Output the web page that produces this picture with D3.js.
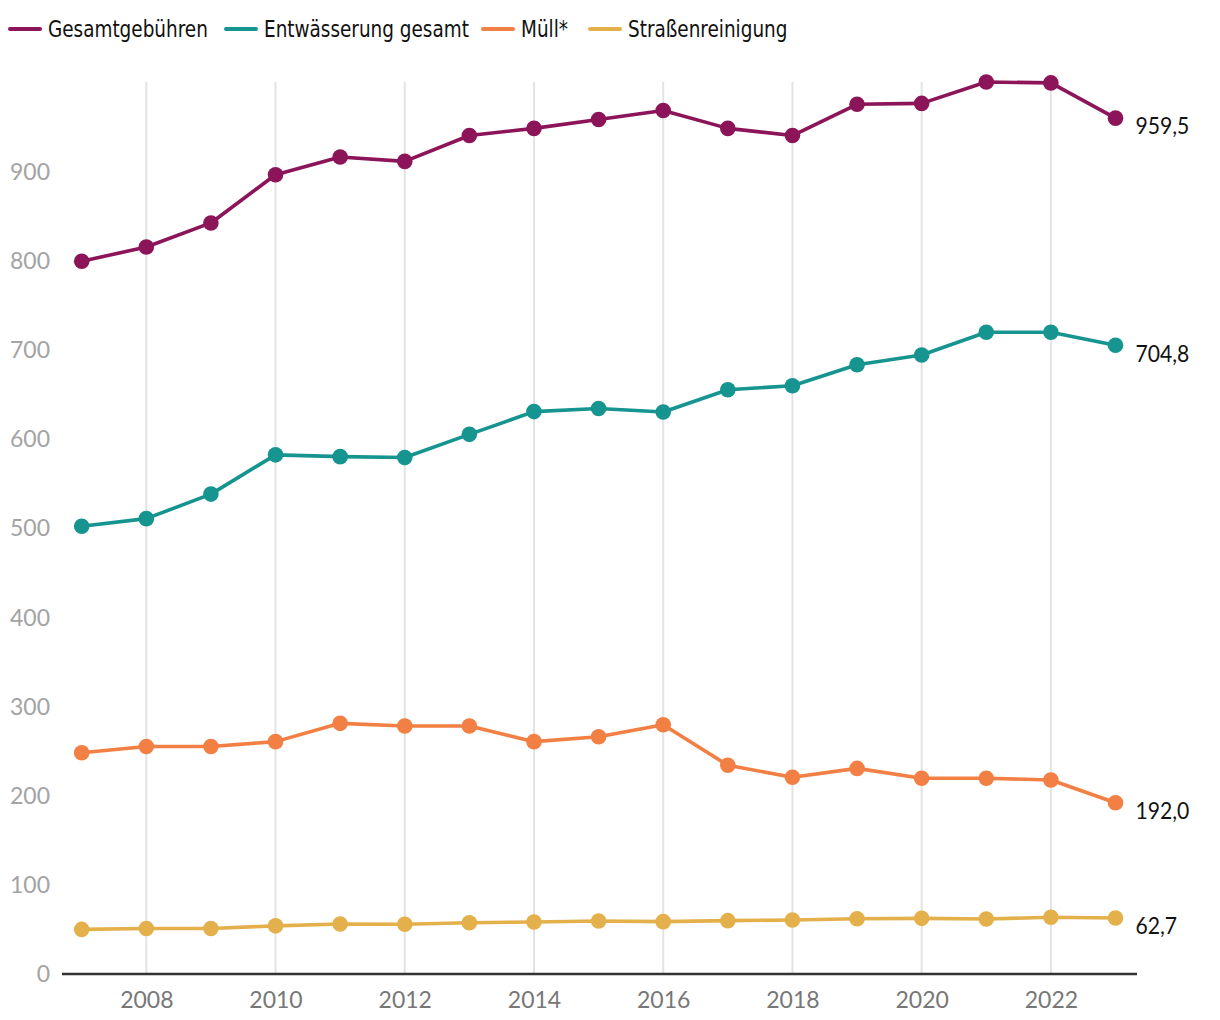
<!DOCTYPE html>
<html><head><meta charset="utf-8">
<script src="https://cdn.jsdelivr.net/npm/d3@7"></script>
<style>
body{margin:0;background:#fff;}
svg{display:block;}
</style></head>
<body>
<svg id="c" width="1220" height="1020"></svg>
<script>
const years = [2007,2008,2009,2010,2011,2012,2013,2014,2015,2016,2017,2018,2019,2020,2021,2022,2023];
const gesamt = [799,815,842,896,916,911,940,948,958,968,948,940,975,976,1000,999,959.5];
const entwaesserung = [502,510.5,538,582,580,579,605,630.5,634,630,655,659.5,683,694,719.5,719.5,704.8];
const muell = [248,255,255,260.5,281,278,278,260.5,266,279.5,234,220.5,230.5,219.5,219.5,217.5,192.0];
const strasse = [50,51,51,54,56,55.7,57.5,58.3,59.4,58.7,59.8,60.5,62,62.4,61.7,63.6,62.7];
const seriesNames = ["Gesamtgebühren","Entwässerung gesamt","Müll*","Straßenreinigung"];
const seriesColors = ["#8c1459","#16948f","#f27f43","#e4b04b"];
const yTicks = [0,100,200,300,400,500,600,700,800,900];
const xTicks = [2008,2010,2012,2014,2016,2018,2020,2022];
const endLabels = ["959,5","704,8","192,0","62,7"];

const series = [gesamt, entwaesserung, muell, strasse];
const svg = d3.select("#c");
const x = d3.scaleLinear().domain([2007,2023]).range([81.7,1115.5]);
const y = d3.scaleLinear().domain([0,1000]).range([974,82]);

// vertical grid
svg.append("g").selectAll("line").data(xTicks).join("line")
  .attr("x1",d=>x(d)).attr("x2",d=>x(d)).attr("y1",y(1000)).attr("y2",y(0))
  .attr("stroke","#e3e3e3").attr("stroke-width",2);

// y axis labels
const yAxis = d3.axisLeft(y).tickValues(yTicks).tickSize(0).tickPadding(0).tickFormat(d3.format("d"));
const ya = svg.append("g").attr("transform","translate(50,0)").call(yAxis);
ya.select(".domain").remove();
ya.selectAll("text").attr("fill","#a3a3a3").attr("font-family","Lato, sans-serif").attr("font-size",23).attr("dy","0.34em");

// x axis
const xAxis = d3.axisBottom(x).tickValues(xTicks).tickSize(0).tickPadding(0).tickFormat(d3.format("d"));
const xa = svg.append("g").attr("transform","translate(0,"+y(0)+")").call(xAxis);
xa.select(".domain").remove();
xa.selectAll("text").attr("fill","#777").attr("font-family","Lato, sans-serif").attr("font-size",23).attr("y",34).attr("dy",0);
svg.append("line").attr("x1",62).attr("x2",1137).attr("y1",y(0)).attr("y2",y(0))
  .attr("stroke","#333").attr("stroke-width",2.5);

const line = d3.line().x((d,i)=>x(years[i])).y(d=>y(d));
series.forEach((s,k)=>{
  const g = svg.append("g");
  g.append("path").datum(s).attr("d",line).attr("fill","none")
    .attr("stroke",seriesColors[k]).attr("stroke-width",3.6).attr("stroke-linejoin","round");
  g.selectAll("circle").data(s).join("circle")
    .attr("cx",(d,i)=>x(years[i])).attr("cy",d=>y(d)).attr("r",7.8).attr("fill",seriesColors[k]);
  g.append("text").attr("x",x(2023)+20).attr("y",y(s[s.length-1])+8).attr("dy","0.36em")
    .attr("font-family","Lato, sans-serif").attr("font-size",23).attr("fill","#111")
    .attr("transform","translate("+(x(2023)+20)+",0) scale(0.92,1) translate("+(-(x(2023)+20))+",0)")
    .text(endLabels[k]);
});

// legend
const legendX = [10,226,483,590];
const lg = svg.append("g").attr("transform","translate(0,29)");
seriesNames.forEach((n,k)=>{
  const it = lg.append("g").attr("transform","translate("+legendX[k]+",0)");
  it.append("line").attr("x1",0).attr("x2",30).attr("y1",0).attr("y2",0)
    .attr("stroke",seriesColors[k]).attr("stroke-width",4).attr("stroke-linecap","round");
  it.append("g").attr("transform","translate(38,0) scale(0.89,1)")
    .append("text").attr("x",0).attr("y",0).attr("dy","0.35em")
    .attr("font-family","'DejaVu Sans Condensed','DejaVu Sans',sans-serif")
    .attr("font-size",23).attr("fill","#111").text(n);
});
</script>
</body></html>
